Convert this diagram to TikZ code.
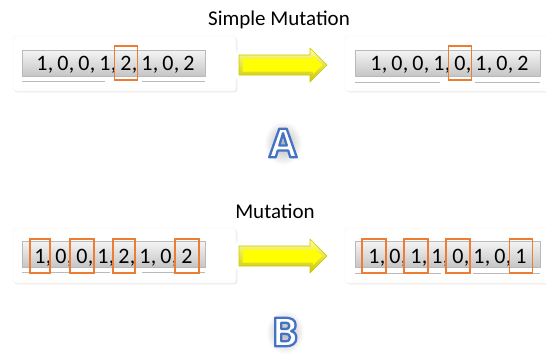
\documentclass[tikz,border=0pt]{standalone}
\usepackage{fontspec}
\setmainfont{Carlito}
\newfontfamily\letterfont{Open Sans}
\usetikzlibrary{shadows,calc}
\definecolor{oborder}{RGB}{237,125,49}
\definecolor{lblue}{RGB}{68,114,196}
\definecolor{ayel}{RGB}{255,255,0}
\definecolor{ayeld}{RGB}{205,200,0}
\definecolor{ayell}{RGB}{255,255,150}
\tikzset{
  dig/.style={inner sep=0pt, anchor=base, font=\fontsize{22}{22}\selectfont},
  comma/.style={inner sep=0pt, anchor=base west, font=\fontsize{22}{22}\selectfont},
  obox/.style={draw=oborder, line width=1.5pt, minimum width=23pt, minimum height=34pt, inner sep=0pt, yshift=7pt},
  panel/.style={fill=white, draw=gray!10, line width=0.4pt, rounded corners=3pt, drop shadow={opacity=0.12, shadow xshift=1.5pt, shadow yshift=-1.5pt}},
  bar/.style={top color=gray!8, bottom color=gray!45, draw=gray!55, line width=0.5pt},
  uline/.style={draw=gray!55, line width=0.7pt},
  title/.style={inner sep=0pt, anchor=base, font=\fontsize{21}{21}\selectfont},
  bigletter/.style={inner sep=0pt, text=white, font=\fontsize{40}{40}\letterfont\bfseries}
}
\newcommand\outlined[1]{\special{pdf:code 2 Tr 2.3 w 1 j 0.267 0.447 0.769 RG}#1}
\newcommand\mkrow[4]{% prefix, x0, baseline y, digits
  \foreach \d [count=\i] in {#4} {
    \node[dig] (#1\i) at ({#2+(\i-1)*21}, #3) {\d};
    \ifnum\i<8 \node[comma] at (#1\i.base east) {,};\fi
  }
}
\newcommand\mkarrowshape{%
  \path[draw=white, line width=9pt, line join=round, fill=white, drop shadow={opacity=0.15, shadow xshift=1.5pt, shadow yshift=-2pt}]
    (239,55) -- (310,55) -- (310,48) -- (327,65) -- (310,82) -- (310,75) -- (239,75) -- cycle;
  \path[top color=ayell, bottom color=ayeld, draw=ayeld, line width=0.6pt, line join=round]
    (239,55) -- (310,55) -- (310,48) -- (327,65) -- (310,82) -- (310,75) -- (239,75) -- cycle;
  \path[fill=ayel]
    (242.5,58.5) -- (313,58.5) -- (313,56) -- (322,65) -- (313,74) -- (313,71.5) -- (242.5,71.5) -- cycle;
}
\newcommand\mkletter[3]{% name, position, letter
  \shade[inner color=gray!60, outer color=white] #2 ellipse (19pt and 22pt);
  \node[bigletter] (#1) at #2 {\outlined{#3}};
}
\begin{document}
\begin{tikzpicture}[x=1pt,y=-1pt]
\useasboundingbox[fill=white] (0,0) rectangle (546,356);

% ---------- Part A ----------
\node[title] (titleA) at (279,25) {Simple Mutation};
\path[panel] (13,36) rectangle (236,91);
\path[panel] (345,36) rectangle (548,91);
\path[bar] (22,50) rectangle (205,76);
\path[bar] (355,50) rectangle (540,76);
\draw[uline] (22,81) -- (105,81) (142,81) -- (205,81);
\draw[uline] (355,82) -- (440,82) (475,82) -- (540,82);
\mkrow{tl}{42}{70}{1,0,0,1,2,1,0,2}
\mkrow{tr}{376}{70}{1,0,0,1,0,1,0,2}
\node[obox] (bA1) at (tl5.base) {};
\node[obox] (bA2) at (tr5.base) {};
\mkarrowshape
\mkletter{letA}{(283,143)}{A}

% ---------- Part B ----------
\node[title] (titleB) at (275,218) {Mutation};
\path[panel] (13,228) rectangle (236,283);
\path[panel] (345,228) rectangle (548,283);
\path[bar] (22,241) rectangle (205,267);
\path[bar] (355,241) rectangle (540,267);
\draw[uline] (22,272) -- (110,272) (142,272) -- (205,272);
\draw[uline] (355,273) -- (441,273) (473,273) -- (540,273);
\mkrow{bl}{40}{263}{1,0,0,1,2,1,0,2}
\mkrow{br}{374}{263}{1,0,1,1,0,1,0,1}
\node[obox, minimum width=20pt] (bB1) at (bl1.base) {};
\node[obox, minimum width=24pt] (bB2) at (bl3.base) {};
\node[obox, minimum width=22pt] (bB3) at (bl5.base) {};
\node[obox, minimum width=24pt] (bB4) at (bl8.base) {};
\node[obox, minimum width=24pt] (bB5) at (br1.base) {};
\node[obox, minimum width=24pt] (bB6) at (br3.base) {};
\node[obox, minimum width=24pt] (bB7) at (br5.base) {};
\node[obox, minimum width=23pt] (bB8) at (br8.base) {};
\begin{scope}[shift={(0,191)}]
\mkarrowshape
\end{scope}
\mkletter{letB}{(285,332)}{B}
\end{tikzpicture}
\end{document}
